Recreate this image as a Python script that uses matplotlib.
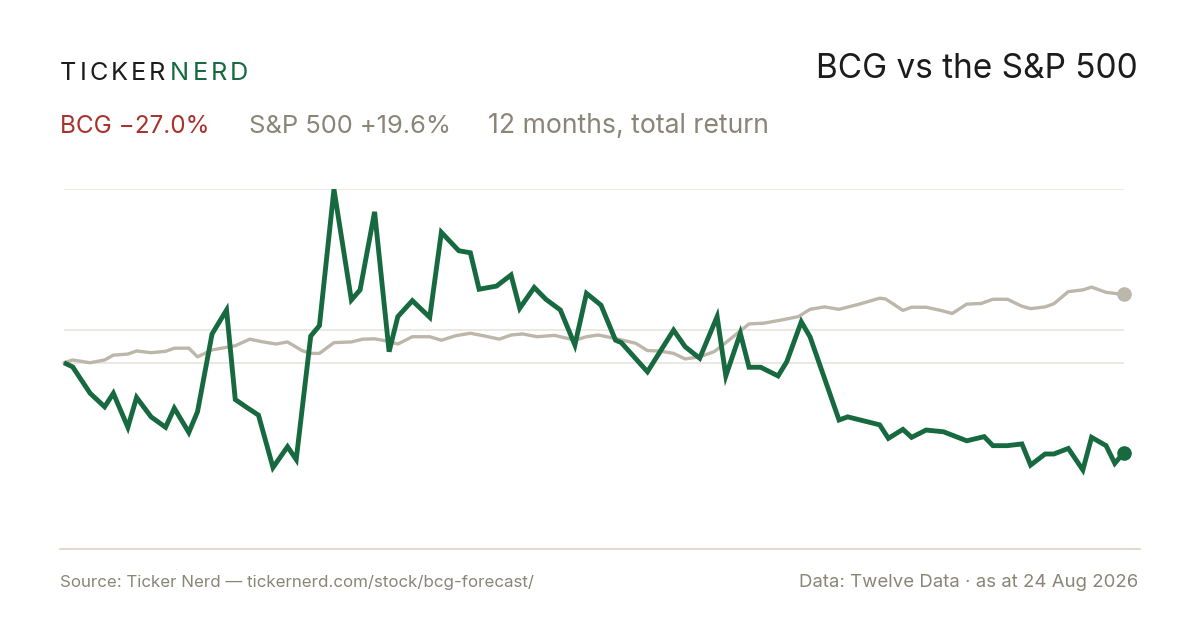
import matplotlib
matplotlib.use("Agg")
import matplotlib.pyplot as plt

# 12 months of total return, % (day 0 = start of window)
bcg_days = [0, 3, 9, 14, 17, 22, 25, 30, 35, 38, 43, 46, 51, 56, 59, 63, 67, 72, 77, 80,
            85, 88, 93, 99, 102, 107, 112, 115, 120, 126, 130, 136, 140, 143, 149, 154, 157,
            162, 166, 171, 176, 180, 185, 190, 192, 201, 210, 214, 219, 225, 228, 233, 236,
            240, 246, 249, 254, 257, 267, 270, 281, 284, 289, 292, 297, 303, 311, 317, 320,
            325, 330, 333, 338, 341, 346, 351, 354, 359, 362, 365]
bcg_ret = [0.0, -1.2, -8.8, -12.7, -8.8, -18.6, -10.0, -15.6, -18.6, -13.1, -20.1, -14.1, 8.3,
           15.2, -10.6, -12.9, -15.1, -30.2, -24.2, -27.9, 7.7, 10.7, 50.0, 18.1, 21.0, 43.5,
           3.2, 13.3, 17.9, 13.1, 37.6, 32.3, 31.7, 21.2, 22.1, 25.3, 15.7, 21.7, 18.3, 15.2,
           5.1, 20.0, 16.6, 6.5, 5.8, -2.6, 9.4, 4.6, 1.3, 13.3, -3.8, 8.5, -1.3, -1.3, -3.8,
           0.3, 11.8, 7.5, -16.5, -15.6, -17.9, -21.8, -19.2, -21.5, -19.4, -19.9, -22.5,
           -21.3, -23.9, -23.9, -23.4, -29.5, -26.3, -26.3, -24.7, -30.9, -21.5, -23.9,
           -29.0, -26.0]

spx_days = [0, 3, 9, 14, 17, 22, 25, 30, 35, 38, 43, 46, 51, 59, 64, 68, 73, 77, 82, 85, 88,
            93, 99, 103, 107, 111, 115, 120, 126, 130, 135, 140, 145, 150, 154, 158, 163, 169,
            176, 180, 184, 190, 197, 201, 205, 210, 214, 219, 224, 228, 236, 241, 247, 253,
            257, 262, 267, 274, 281, 283, 289, 292, 297, 302, 306, 311, 316, 320, 325, 330,
            333, 338, 341, 346, 351, 354, 359, 365]
spx_ret = [0.0, 0.8, 0.0, 0.8, 2.2, 2.5, 3.4, 2.9, 3.3, 4.2, 4.2, 1.7, 3.7, 4.9, 6.8, 6.1, 5.4,
           6.0, 3.5, 2.7, 2.7, 5.8, 6.0, 6.8, 6.9, 6.3, 5.4, 7.5, 7.5, 6.5, 7.8, 8.5, 7.7, 6.8,
           8.0, 8.3, 7.5, 7.9, 6.5, 7.5, 8.0, 7.0, 5.6, 3.5, 3.4, 2.7, 1.1, 1.7, 3.2, 5.8,
           11.2, 11.4, 12.3, 13.3, 15.4, 16.1, 15.4, 16.9, 18.6, 18.4, 15.1, 16.0, 16.0, 15.1,
           14.2, 16.9, 17.1, 18.3, 18.3, 16.3, 15.6, 16.1, 17.0, 20.5, 21.0, 21.8, 20.3, 19.7]

grid_levels = [0, 9.5, 50]

GREEN = "#17693f"
SAND = "#bdb6aa"
RED = "#a8322d"
MUTED = "#8a8577"
INK = "#1c1c1c"
GRID = "#ebe7e0"
RULE = "#dcd8cc"

plt.rcParams["font.family"] = ["Inter", "DejaVu Sans"]

W, H = 1200, 630
fig = plt.figure(figsize=(12, 6.3), dpi=100)
fig.patch.set_facecolor("white")

def fx(px):
    return px / W

def fy(py):
    return 1 - py / H

ax = fig.add_axes([fx(64), fy(548), fx(1123.5 - 64), (548 - 189.3) / H])
ax.set_xlim(0, 365)
ax.set_ylim(-53.4, 50)
ax.axis("off")

for g in grid_levels:
    ax.axhline(g, color=GRID, lw=1.3, zorder=1)

ax.plot(spx_days, spx_ret, color=SAND, lw=2.4, solid_joinstyle="round",
        solid_capstyle="round", zorder=2, clip_on=False)
ax.plot(bcg_days, bcg_ret, color=GREEN, lw=3.5, solid_joinstyle="miter",
        solid_capstyle="butt", zorder=3, clip_on=False)
ax.scatter([spx_days[-1]], [spx_ret[-1]], s=90, color=SAND, zorder=4, clip_on=False)
ax.scatter([bcg_days[-1]], [bcg_ret[-1]], s=90, color=GREEN, zorder=5, clip_on=False)

# footer rule
fig.add_artist(plt.Line2D([fx(60), fx(1140)], [fy(548.5), fy(548.5)], color=RULE, lw=1.3))

# letter-spaced wordmark
renderer = fig.canvas.get_renderer()

def spaced(x, y, s, color, size, track):
    for ch in s:
        t = fig.text(fx(x), fy(y), ch, color=color, fontsize=size, va="baseline", ha="left")
        x += t.get_window_extent(renderer).width + track
    return x

xe = spaced(60, 79.5, "TICKER", INK, 18.2, 3.0)
spaced(xe + 2, 79.5, "NERD", GREEN, 18.2, 3.0)

fig.text(fx(1138), fy(78.5), "BCG vs the S&P 500", ha="right", va="baseline",
         fontsize=24, color=INK)

fig.text(fx(60), fy(133), "BCG \u221227.0%", ha="left", va="baseline", fontsize=17.5, color=RED)
fig.text(fx(249), fy(133), "S&P 500 +19.6%", ha="left", va="baseline", fontsize=18.4, color=MUTED)
fig.text(fx(488), fy(133), "12 months, total return", ha="left", va="baseline",
         fontsize=19.2, color=MUTED)

fig.text(fx(60), fy(587), "Source: Ticker Nerd \u2014 tickernerd.com/stock/bcg-forecast/",
         ha="left", va="baseline", fontsize=12.2, color=MUTED)
fig.text(fx(1138), fy(587), "Data: Twelve Data \u00b7 as at 24 Aug 2026",
         ha="right", va="baseline", fontsize=13.4, color=MUTED)

fig.savefig("out.png", dpi=100, facecolor="white")
